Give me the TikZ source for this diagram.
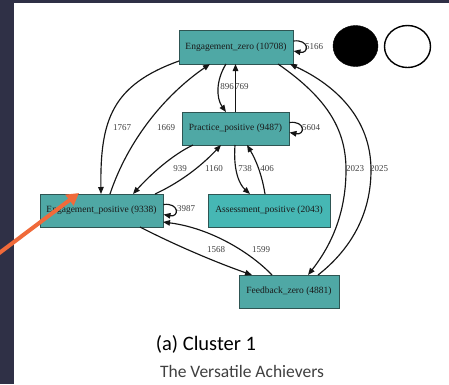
\documentclass[tikz,border=0pt]{standalone}
\usepackage{fontspec}
\setmainfont{Liberation Serif}
\newfontfamily\capfont{Carlito}
\usetikzlibrary{arrows.meta,shapes.geometric}
\definecolor{tealbox}{HTML}{4FA8A5}
\definecolor{tealbright}{HTML}{46B7B4}
\definecolor{boxline}{HTML}{2E5553}
\definecolor{darkstrip}{HTML}{2F3046}
\definecolor{orangearrow}{HTML}{F06A3A}
\definecolor{edgecol}{HTML}{151515}
\definecolor{subgray}{HTML}{404040}
\tikzset{
  statebox/.style={draw=boxline, line width=0.9pt, fill=tealbox, inner sep=0pt,
    font=\fontsize{9.5}{10}\selectfont, text=black!90},
  edge/.style={draw=edgecol, line width=1.15pt, -{Triangle[length=7pt,width=5.5pt]}},
  elabel/.style={font=\fontsize{9}{10}\selectfont, text=black!75, inner sep=0pt}
}
\begin{document}
\begin{tikzpicture}[x=1pt,y=-1pt]
\useasboundingbox (0,0) rectangle (449,384);
\fill[white] (0,0) rectangle (449,384);
\fill[darkstrip] (0,0) rectangle (14,384);
\fill[darkstrip] (0,0) rectangle (449,3);

% nodes
\node[statebox, minimum width=114pt, minimum height=34pt] (E0) at (236,47) {Engagement\_zero (10708)};
\node[statebox, minimum width=107pt, minimum height=33pt] (PP) at (235.5,128.5) {Practice\_positive (9487)};
\node[statebox, minimum width=123pt, minimum height=33pt] (EP) at (101.5,210.5) {Engagement\_positive (9338)};
\node[statebox, fill=tealbright, minimum width=122pt, minimum height=33pt] (AP) at (269,210.5) {Assessment\_positive (2043)};
\node[statebox, minimum width=100pt, minimum height=33pt] (FZ) at (289,291.5) {Feedback\_zero (4881)};

% circles
\node[draw=black, fill=black, ellipse, minimum width=45pt, minimum height=41pt, inner sep=0pt] (BC) at (355.5,46) {};
\node[draw=black, line width=1.4pt, fill=white, ellipse, minimum width=46pt, minimum height=42pt, inner sep=0pt] (WC) at (407.5,46.5) {};

% named endpoints
\coordinate (e0a) at (179,61);
\coordinate (e0b) at (210,64);
\coordinate (e0c) at (226,64);
\coordinate (e0d) at (235.5,64);
\coordinate (e0e) at (278,64);
\coordinate (e0f) at (290,64);
\coordinate (ppa) at (226,112);
\coordinate (ppb) at (235.5,112);
\coordinate (ppc) at (193,145);
\coordinate (ppd) at (221,145);
\coordinate (ppe) at (235,145);
\coordinate (ppf) at (247,145);
\coordinate (epa) at (101,194);
\coordinate (epb) at (110,194);
\coordinate (epc) at (133,194);
\coordinate (epd) at (155,194);
\coordinate (epe) at (140,227);
\coordinate (epf) at (163,222);
\coordinate (apa) at (250,194);
\coordinate (apb) at (265,194);
\coordinate (fza) at (252,275);
\coordinate (fzb) at (272,275);
\coordinate (fzc) at (308,275);
\coordinate (fzd) at (318,275);

% edges
\draw[edge] (e0a) .. controls (112,85) and (100,120) .. (epa);
\draw[edge] (epb) .. controls (128,140) and (165,95) .. (e0b);
\draw[edge] (e0c) .. controls (216,80) and (216,98) .. (ppa);
\draw[edge] (ppb) -- (e0d);
\draw[edge] (ppc) .. controls (172,155) and (150,175) .. (epc);
\draw[edge] (epd) .. controls (185,180) and (205,162) .. (ppd);
\draw[edge] (ppe) .. controls (233,172) and (240,185) .. (apa);
\draw[edge] (apb) .. controls (262,175) and (256,160) .. (ppf);
\draw[edge] (e0e) .. controls (330,100) and (346,132) .. (346,170) .. controls (346,220) and (326,252) .. (fzc);
\draw[edge] (fzd) .. controls (350,250) and (371,215) .. (371,170) .. controls (371,118) and (335,85) .. (e0f);
\draw[edge] (epe) .. controls (175,245) and (215,262) .. (fza);
\draw[edge] (fzb) .. controls (250,252) and (210,228) .. (epf);

% self loops
\draw[edge] ([yshift=6pt]E0.east) .. controls +(16,-2) and +(16,3) .. ([yshift=-4pt]E0.east);
\draw[edge] ([yshift=6pt]PP.east) .. controls +(16,-2) and +(16,3) .. ([yshift=-4pt]PP.east);
\draw[edge] ([yshift=6pt]EP.east) .. controls +(16,-2) and +(16,3) .. ([yshift=-4pt]EP.east);

% edge labels
\node[elabel] (l1767) at (122,128) {1767};
\node[elabel] (l1669) at (166,128) {1669};
\node[elabel, anchor=east] (l896) at (234,87) {896};
\node[elabel, anchor=west] (l769) at (235,87) {769};
\node[elabel] (l939) at (180,169) {939};
\node[elabel] (l1160) at (214,169) {1160};
\node[elabel] (l738) at (245,169) {738};
\node[elabel] (l406) at (267,169) {406};
\node[elabel] (l2023) at (355,169) {2023};
\node[elabel] (l2025) at (379,169) {2025};
\node[elabel] (l1568) at (216,250) {1568};
\node[elabel] (l1599) at (261,250) {1599};
\node[elabel] (l5166) at (314,47) {5166};
\node[elabel] (l5604) at (311,128) {5604};
\node[elabel] (l3987) at (186,209) {3987};

% orange pointer arrow
\coordinate (oa) at (-2,254);
\coordinate (ob) at (79,193);
\draw[orangearrow, line width=4pt, -{Triangle[length=12pt,width=13pt]}] (oa) -- (ob);

% caption
\node[font=\capfont\fontsize{20.5}{24}\selectfont, text=black] (cap1) at (206,344) {(a) Cluster 1};
\node[font=\capfont\fontsize{17.5}{21}\selectfont, text=subgray] (cap2) at (242,371) {The Versatile Achievers};
\end{tikzpicture}
\end{document}
